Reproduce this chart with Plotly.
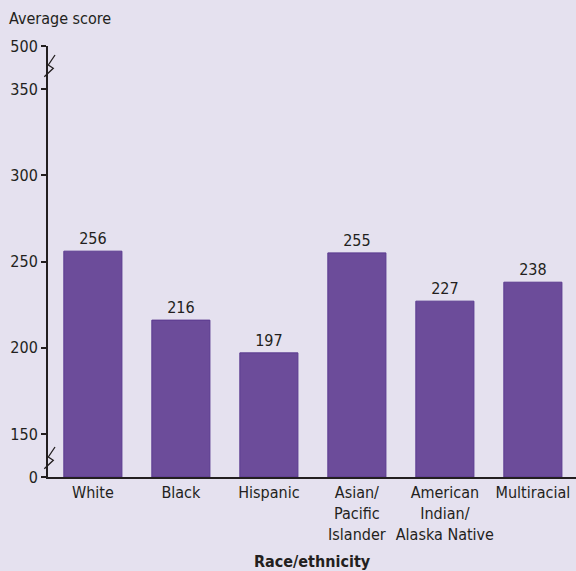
import plotly.graph_objects as go

categories = ["White", "Black", "Hispanic", "Asian/<br>Pacific<br>Islander",
              "American<br>Indian/<br>Alaska Native", "Multiracial"]
scores = [256, 216, 197, 255, 227, 238]
tick_values = [0, 150, 200, 250, 300, 350, 500]
tick_labels = ["0", "150", "200", "250", "300", "350", "500"]

W, H = 576, 571
ML, MR, MT, MB = 48, 0, 46, 94
PW, PH = W - ML - MR, H - MT - MB


def d(v):
    """Broken-axis transform: 0-150 and 350-500 are compressed."""
    if v <= 150:
        return 125 + v / 150 * 25
    if v <= 350:
        return v
    return 350 + (v - 350) / 150 * 25


BASE = d(0)
FONT = "DejaVu Sans Condensed, Liberation Sans Narrow, Roboto, sans-serif"
INK = "#231f20"
BG = "#e5e1ef"
FS = 16

fig = go.Figure(go.Bar(
    x=list(range(len(categories))),
    y=[d(s) - BASE for s in scores],
    base=BASE,
    marker=dict(color="#6c4c9a", line=dict(color="#5a3a8f", width=1)),
    text=[str(s) for s in scores],
    textposition="outside",
    textfont=dict(family=FONT, size=FS, color=INK),
    cliponaxis=False,
    width=0.66,
))


def px2paper(x, y):
    return (x - ML) / PW, (H - MB - y) / PH


shapes = []
for pts in ([(55, 55), (48.3, 65), (53.3, 68.3), (44.3, 76.7)],
            [(55, 447), (48.3, 457), (53.3, 460.3), (44.3, 468.7)]):
    p = [px2paper(*q) for q in pts]
    path = "M " + " L ".join(f"{a:.4f},{b:.4f}" for a, b in p)
    shapes.append(dict(type="path", path=path, xref="paper", yref="paper",
                       line=dict(color=INK, width=1.3)))

fig.update_layout(
    width=W, height=H,
    margin=dict(l=ML, r=MR, t=MT, b=MB, autoexpand=False),
    paper_bgcolor=BG, plot_bgcolor=BG,
    showlegend=False,
    font=dict(family=FONT, size=FS, color=INK),
    shapes=shapes,
    xaxis=dict(
        range=[-0.51, 5.49],
        tickvals=list(range(len(categories))),
        ticktext=categories,
        tickangle=0, automargin=False,
        showline=True, linecolor=INK, linewidth=2,
        showgrid=False, zeroline=False, ticks="",
        tickfont=dict(family=FONT, size=FS, color=INK),
    ),
    yaxis=dict(
        range=[d(0), d(500)],
        tickvals=[d(v) for v in tick_values],
        ticktext=tick_labels,
        automargin=False,
        showline=True, linecolor=INK, linewidth=2,
        showgrid=False, zeroline=False,
        ticks="outside", ticklen=5, tickwidth=1.5, tickcolor=INK,
        tickfont=dict(family=FONT, size=FS, color=INK),
    ),
    annotations=[
        dict(text="Average score", xref="paper", yref="paper",
             x=px2paper(7, 0)[0], y=px2paper(0, 18)[1],
             xanchor="left", yanchor="middle", showarrow=False,
             font=dict(family=FONT, size=FS, color=INK)),
        dict(text="<b>Race/ethnicity</b>", xref="paper", yref="paper",
             x=px2paper(312, 0)[0], y=px2paper(0, 561)[1],
             xanchor="center", yanchor="middle", showarrow=False,
             font=dict(family=FONT, size=FS, color=INK)),
    ],
)

fig.write_html("out.html",
               config={"displayModeBar": False},
               post_script="document.body.style.margin='0';"
                           "document.body.style.overflow='hidden';")
